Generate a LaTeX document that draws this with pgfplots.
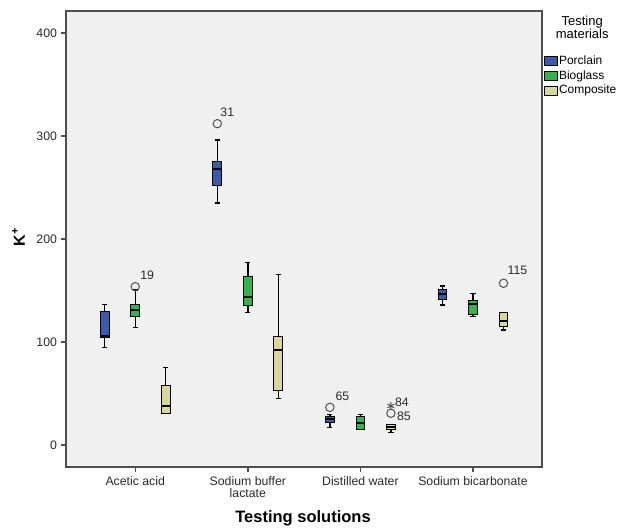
\documentclass[border=0pt]{standalone}
\usepackage{pgfplots}
\pgfplotsset{compat=1.18}
\usepgfplotslibrary{statistics}
\usepackage{fontspec}
\setmainfont{Liberation Sans}
\definecolor{cblue}{HTML}{3C5AAB}
\definecolor{cgreen}{HTML}{34B24B}
\definecolor{cyell}{HTML}{DAD59B}
\definecolor{bggray}{HTML}{F0F0F0}
\definecolor{framegray}{HTML}{505050}
\definecolor{labgray}{HTML}{2A2A2A}
\newcommand{\fs}[1]{\fontsize{#1}{#1}\selectfont}
\pgfplotsset{
  bx/.style n args={7}{%
    boxplot prepared={draw position=#1, lower whisker=#2, lower quartile=#3, median=#4, upper quartile=#5, upper whisker=#6,
      box extend=0.078, whisker extend=0.046,
      every box/.style={draw=black, fill=#7, line width=1bp},
      every whisker/.style={draw=black, line width=1.4bp},
      every median/.style={draw=black, line width=2.2bp}},
    draw=black, solid, mark=none},
  outl/.style={only marks, mark=o, mark size=4.2bp, mark options={draw=framegray, line width=1bp, fill=none}},
}
\begin{document}
\begin{tikzpicture}
\begin{axis}[
  at={(0bp,0bp)}, anchor=south west,
  boxplot/draw direction=y,
  scale only axis, width=476bp, height=456bp,
  xmin=0.385, xmax=4.613, ymin=-21.4, ymax=421.4,
  xtick={1,2,3,4},
  xticklabels={Acetic acid,{Sodium buffer\\lactate},Distilled water,Sodium bicarbonate},
  ytick={0,100,200,300,400},
  tick align=outside, tick pos=left, major tick length=5bp,
  tick style={draw=framegray, line width=1.4bp},
  axis line style={draw=framegray, line width=1.6bp},
  axis background/.style={fill=bggray},
  /pgf/number format/assume math mode=true,
  ticklabel style={font=\fs{12.3bp}, text=labgray},
  xticklabel style={align=center, yshift=-1bp},
  yticklabel style={xshift=-0.5bp},
  xlabel={\textbf{Testing solutions}},
  xlabel style={font=\fs{16.5bp}, at={(axis description cs:0.498,-0.112)}, anchor=center},
  ylabel={\textbf{K\textsuperscript{+}}},
  ylabel style={font=\fs{16bp}, at={(axis description cs:-0.1,0.505)}, anchor=center},
  legend style={at={(axis description cs:1.004,0.905)}, anchor=north west, draw=none, fill=none,
    inner sep=0pt, row sep=1.2bp,
    nodes={font=\fs{12bp}, text=black, inner sep=1bp, text height=9bp, text depth=2.5bp, anchor=west}},
  legend cell align=left,
  legend image code/.code={\draw[#1, line width=0.9bp] (0bp,-4.6bp) rectangle (13bp,4.6bp);},
  clip=false,
]
\addlegendimage{fill=cblue, draw=black}
\addlegendentry{Porclain}
\addlegendimage{fill=cgreen, draw=black}
\addlegendentry{Bioglass}
\addlegendimage{fill=cyell, draw=black}
\addlegendentry{Composite}

% Acetic acid
\addplot[bx={0.729}{94.5}{104}{106}{129.4}{136.6}{cblue}] coordinates {};
\addplot[bx={1.0}{114.3}{125}{130.8}{136.6}{150.5}{cgreen}] coordinates {};
\addplot[bx={1.271}{30.4}{30.4}{37.9}{57.6}{75.4}{cyell}] coordinates {};
% Sodium buffer lactate
\addplot[bx={1.729}{235}{252}{267.7}{275.4}{296}{cblue}] coordinates {};
\addplot[bx={2.0}{128.4}{135.2}{144}{163.4}{177.4}{cgreen}] coordinates {};
\addplot[bx={2.271}{45}{52.4}{92.2}{105.1}{165.7}{cyell}] coordinates {};
% Distilled water
\addplot[bx={2.729}{17}{22}{25}{27.5}{29.5}{cblue}] coordinates {};
\addplot[bx={3.0}{15.2}{15.2}{21.7}{27.5}{29.8}{cgreen}] coordinates {};
\addplot[bx={3.271}{11.9}{15.2}{17.8}{20}{20}{cyell}] coordinates {};
% Sodium bicarbonate
\addplot[bx={3.729}{135.9}{141.5}{146.6}{151.2}{154.4}{cblue}] coordinates {};
\addplot[bx={4.0}{124.6}{126.2}{136.6}{139.8}{147.3}{cgreen}] coordinates {};
\addplot[bx={4.271}{111.7}{115.5}{120.4}{128.4}{128.4}{cyell}] coordinates {};

% outliers
\addplot[outl] coordinates {(1.0,153.7) (1.729,312) (2.729,36.5) (3.271,30.8) (4.271,157)};
\addplot[only marks, mark=asterisk, mark size=4bp, mark options={draw=framegray, line width=1bp}] coordinates {(3.271,37.9)};

\begin{scope}[every node/.style={font=\fs{12.3bp}, text=labgray, inner sep=0pt}]
\node[xshift=12bp, yshift=11.5bp] at (axis cs:1.0,153.7) {19};
\node[xshift=10bp, yshift=11.5bp] at (axis cs:1.729,312) {31};
\node[xshift=12.5bp, yshift=11.5bp] at (axis cs:2.729,36.5) {65};
\node[xshift=11bp, yshift=3.5bp] at (axis cs:3.271,37.9) {84};
\node[xshift=13bp, yshift=-3.5bp] at (axis cs:3.271,30.8) {85};
\node[xshift=14bp, yshift=12.5bp] at (axis cs:4.271,157) {115};
\end{scope}

\node[font=\fs{13bp}, align=center, text=black, inner sep=0pt] at (axis description cs:1.0845,0.964) {Testing\\materials};
\end{axis}
\pgfresetboundingbox
\path[use as bounding box] (-66bp,-62bp) rectangle (553bp,467bp);
\end{tikzpicture}
\end{document}
